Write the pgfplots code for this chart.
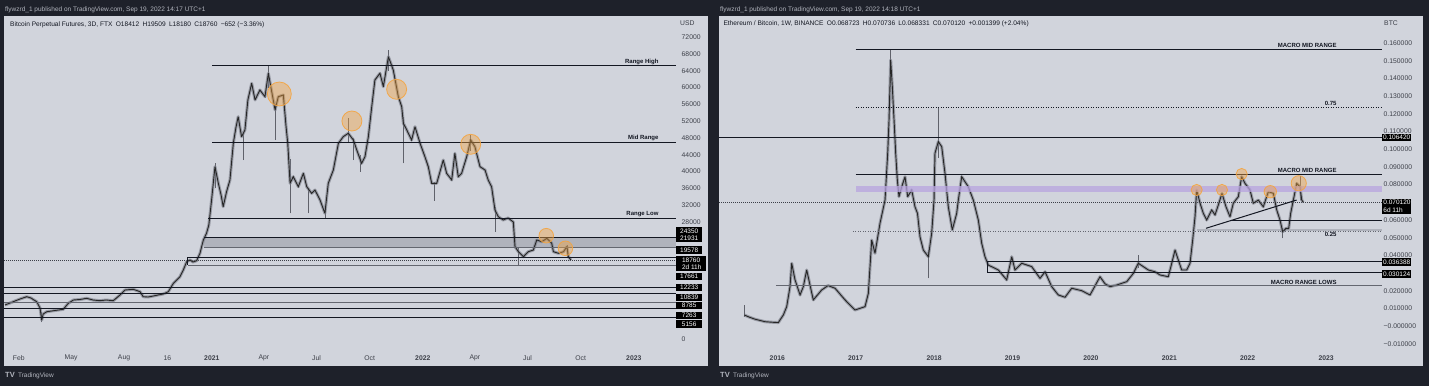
\documentclass[border=0pt]{standalone}
\usepackage{pgfplots}
\pgfplotsset{compat=1.18}
\usepackage{pgfplotstable}
\usepackage{fontspec}
\setmainfont{Liberation Sans}
\definecolor{frame}{RGB}{30,33,42}
\definecolor{panel}{RGB}{209,212,220}
\definecolor{hdr}{RGB}{178,181,190}
\definecolor{ink}{RGB}{19,23,34}
\definecolor{ticktext}{RGB}{60,63,72}
\definecolor{candlegray}{RGB}{120,123,134}
\definecolor{bandgray}{RGB}{176,179,188}
\definecolor{linegray}{RGB}{100,103,112}
\definecolor{hlorange}{RGB}{244,164,64}
\definecolor{lavender}{RGB}{184,164,224}

\pgfplotstableread{
t p
2020.020 8178
2020.059 8964
2020.091 9608
2020.123 10156
2020.143 9846
2020.170 8964
2020.186 7462
2020.194 4601
2020.201 6032
2020.218 6580
2020.257 6866
2020.296 7152
2020.320 8582
2020.344 9369
2020.375 9488
2020.407 9774
2020.437 9369
2020.470 9202
2020.499 9369
2020.533 9202
2020.565 10561
2020.589 11753
2020.628 11920
2020.660 11348
2020.675 10156
2020.698 10084
2020.723 10323
2020.745 10561
2020.770 10800
2020.794 11348
2020.818 13350
2020.834 14137
2020.849 14924
2020.865 16521
2020.881 18500
2020.897 18905
2020.911 18428
2020.928 18738
2020.944 20502
2020.960 23673
2020.975 25270
2020.986 27249
2020.999 33209
2021.015 41148
2021.031 37190
2021.044 34401
2021.054 31612
2021.070 35188
2021.086 37978
2021.102 46726
2021.114 50374
2021.125 53068
2021.141 48300
2021.157 49898
2021.171 57050
2021.189 61030
2021.205 57050
2021.228 59434
2021.252 57837
2021.268 63416
2021.284 59029
2021.300 54667
2021.315 57837
2021.339 58242
2021.352 50684
2021.360 46726
2021.371 37190
2021.386 38764
2021.410 36380
2021.434 39574
2021.450 36380
2021.473 34806
2021.489 35593
2021.513 33209
2021.536 30038
2021.552 37190
2021.576 40361
2021.600 46726
2021.623 48300
2021.647 49110
2021.671 47513
2021.687 45129
2021.710 41958
2021.726 43532
2021.742 48300
2021.758 55452
2021.773 61818
2021.797 63416
2021.813 60221
2021.837 67373
2021.860 64201
2021.884 57837
2021.900 55452
2021.908 51494
2021.924 49898
2021.947 47513
2021.963 50684
2021.987 46726
2022.010 43532
2022.026 41148
2022.042 37190
2022.066 37190
2022.097 42745
2022.113 39574
2022.137 37978
2022.152 44342
2022.168 38764
2022.184 39574
2022.208 43532
2022.227 47513
2022.247 45916
2022.271 41148
2022.295 40361
2022.310 37978
2022.326 36380
2022.342 30838
2022.358 29228
2022.381 28441
2022.404 28918
2022.429 27964
2022.437 22076
2022.453 20884
2022.477 19692
2022.500 20884
2022.524 21289
2022.540 23673
2022.564 23268
2022.588 24078
2022.611 22886
2022.619 20884
2022.643 20502
2022.667 20884
2022.683 22076
2022.690 19692
2022.702 18905
}\btcdata

\pgfplotstableread{
t v
2015.579 0.0064
2015.630 0.0054
2015.716 0.0040
2015.843 0.0026
2015.932 0.0023
2016.013 0.0021
2016.077 0.0064
2016.120 0.0111
2016.162 0.0224
2016.184 0.0356
2016.226 0.0262
2016.290 0.0177
2016.332 0.0224
2016.375 0.0318
2016.417 0.0233
2016.459 0.0149
2016.566 0.0205
2016.647 0.0230
2016.736 0.0215
2016.864 0.0149
2016.991 0.0092
2017.119 0.0111
2017.161 0.0186
2017.204 0.0487
2017.246 0.0412
2017.310 0.0582
2017.374 0.0713
2017.408 0.0977
2017.425 0.1165
2017.446 0.1504
2017.467 0.1353
2017.489 0.1165
2017.510 0.0977
2017.531 0.0826
2017.552 0.0732
2017.587 0.0788
2017.629 0.0845
2017.663 0.0732
2017.714 0.0770
2017.756 0.0675
2017.788 0.0638
2017.820 0.0506
2017.862 0.0431
2017.926 0.0393
2017.969 0.0525
2017.999 0.0713
2018.011 0.0977
2018.054 0.1043
2018.097 0.1014
2018.139 0.0864
2018.181 0.0675
2018.203 0.0619
2018.232 0.0544
2018.288 0.0638
2018.309 0.0713
2018.352 0.0845
2018.436 0.0788
2018.500 0.0713
2018.564 0.0600
2018.607 0.0469
2018.649 0.0393
2018.691 0.0346
2018.819 0.0318
2018.926 0.0262
2018.990 0.0393
2019.032 0.0318
2019.117 0.0356
2019.245 0.0337
2019.351 0.0271
2019.415 0.0308
2019.500 0.0224
2019.584 0.0177
2019.670 0.0164
2019.755 0.0215
2019.883 0.0201
2019.989 0.0177
2020.094 0.0262
2020.116 0.0280
2020.180 0.0240
2020.244 0.0224
2020.329 0.0233
2020.457 0.0252
2020.541 0.0299
2020.605 0.0356
2020.668 0.0337
2020.732 0.0318
2020.818 0.0308
2020.881 0.0290
2020.987 0.0280
2021.031 0.0356
2021.073 0.0431
2021.115 0.0374
2021.158 0.0318
2021.222 0.0318
2021.264 0.0356
2021.298 0.0487
2021.328 0.0619
2021.349 0.0770
2021.392 0.0695
2021.434 0.0638
2021.477 0.0600
2021.541 0.0657
2021.583 0.0629
2021.625 0.0685
2021.672 0.0751
2021.723 0.0675
2021.774 0.0619
2021.816 0.0695
2021.880 0.0732
2021.923 0.0845
2021.966 0.0807
2022.029 0.0770
2022.071 0.0695
2022.135 0.0713
2022.199 0.0675
2022.263 0.0760
2022.327 0.0751
2022.370 0.0657
2022.412 0.0600
2022.446 0.0534
2022.488 0.0553
2022.523 0.0553
2022.548 0.0638
2022.582 0.0713
2022.625 0.0807
2022.667 0.0788
2022.689 0.0713
2022.709 0.0701
}\ethbtc

\tikzset{
  lbl/.style={font=\fontsize{6}{7}\selectfont\bfseries, text=ink, inner sep=1.3pt},
  pbox/.style={fill=black, text=white, font=\fontsize{6.5}{7.3}\selectfont, anchor=west, inner xsep=0pt, inner ysep=1.3pt, text height=4.7pt, text depth=0.2pt, align=center},
  pbox2/.style={fill=black, text=white, font=\fontsize{6.5}{7.6}\selectfont, anchor=west, inner xsep=0pt, inner ysep=1.3pt, text height=12.3pt, text depth=0.2pt, align=left},
}
\pgfplotsset{
  tvaxis/.style={
    scale only axis, enlargelimits=false, clip mode=individual,
    scaled x ticks=false, scaled y ticks=false,
    axis line style={draw=none}, major tick length=0pt, tick style={draw=none},
    yticklabel pos=right,
    ticklabel style={font=\fontsize{6.8}{8}\selectfont, text=ticktext, inner sep=0pt},
    yticklabel style={anchor=west},
    xticklabel style={anchor=center, yshift=-9pt},
    /pgf/number format/assume math mode=true,
  },
  hl/.style={only marks, mark=*, mark size=#1, mark options={fill=hlorange, fill opacity=0.42, draw=hlorange, draw opacity=0.9, line width=0.8pt}},
  candleA/.style={candlegray, line width=3pt, line join=round, opacity=0.65},
  candleB/.style={black!85, line width=0.9pt, line join=miter, miter limit=3},
  wick/.style={candlegray!80!black, line width=0.7pt, unbounded coords=jump},
}

\begin{document}
\begin{tikzpicture}[x=1pt,y=1pt]
\useasboundingbox (0,0) rectangle (1429,386);
\fill[frame] (0,0) rectangle (1429,386);
\fill[panel] (4,20) rectangle (708,370);
\fill[panel] (719,20) rectangle (1423,370);

% ---------------- Left: BTC perpetual ----------------
\begin{axis}[tvaxis, at={(4pt,37pt)}, anchor=south west, width=672pt, height=333pt,
  xmin=2020.0152, xmax=2023.2, ymin=-2312, ymax=77075,
  ytick={0,28000,32000,36000,40000,44000,48000,52000,56000,60000,64000,68000,72000},
  yticklabels={0,28000,32000,36000,40000,44000,48000,52000,56000,60000,64000,68000,72000},
  yticklabel style={xshift=5.5pt},
  xtick={2020.085,2020.333,2020.584,2020.79,2021,2021.247,2021.496,2021.748,2022,2022.247,2022.496,2022.748,2023},
  xticklabels={Feb,May,Aug,16,\textbf{2021},Apr,Jul,Oct,\textbf{2022},Apr,Jul,Oct,\textbf{2023}}]
\addplot[fill=bandgray, draw=none] coordinates {(2020.963,21931) (2023.2,21931) (2023.2,24350) (2020.963,24350)} -- cycle;
\addplot[ticktext, line width=0.6pt, dash pattern=on 1pt off 1pt] coordinates {(2020.0152,18760) (2023.2,18760)};
\addplot[wick] coordinates {
(2020.194,4050) (2020.194,6600) (2020.194,nan)
(2021.015,36000) (2021.015,42000) (2021.015,nan)
(2021.149,42745) (2021.149,49000) (2021.149,nan)
(2021.268,60000) (2021.268,65200) (2021.268,nan)
(2021.300,47500) (2021.300,56000) (2021.300,nan)
(2021.371,30000) (2021.371,43000) (2021.371,nan)
(2021.457,30038) (2021.457,36000) (2021.457,nan)
(2021.536,29000) (2021.536,32000) (2021.536,nan)
(2021.647,47000) (2021.647,52690) (2021.647,nan)
(2021.671,42745) (2021.671,48000) (2021.671,nan)
(2021.702,39956) (2021.702,44000) (2021.702,nan)
(2021.837,64000) (2021.837,69000) (2021.837,nan)
(2021.908,41958) (2021.908,53000) (2021.908,nan)
(2022.055,33000) (2022.055,37500) (2022.055,nan)
(2022.227,45000) (2022.227,48700) (2022.227,nan)
(2022.342,25650) (2022.342,31500) (2022.342,nan)
(2022.453,17710) (2022.453,22000) (2022.453,nan)
(2022.683,19500) (2022.683,22600)};
\addplot[candleA] table[x=t,y=p]{\btcdata};
\addplot[candleB] table[x=t,y=p]{\btcdata};
% drawn levels
\addplot[ink, line width=1pt] coordinates {(2021.002,65155) (2023.2,65155)};
\addplot[ink, line width=1pt] coordinates {(2021.002,46965) (2023.2,46965)};
\addplot[ink, line width=1pt] coordinates {(2020.983,28846) (2023.2,28846)};
\addplot[ink, line width=1pt] coordinates {(2020.963,24350) (2023.2,24350)};
\addplot[linegray, line width=1.6pt] coordinates {(2020.963,21931) (2023.2,21931)};
\addplot[ink, line width=1pt] coordinates {(2023.2,19578) (2020.887,19578) (2020.887,17661)};
\addplot[linegray, line width=1.3pt] coordinates {(2020.887,17661) (2023.2,17661)};
\addplot[ink, line width=1pt] coordinates {(2020.0152,12233) (2023.2,12233)};
\addplot[ink, line width=1pt] coordinates {(2020.0152,10839) (2023.2,10839)};
\addplot[linegray, line width=1.6pt] coordinates {(2020.0152,8785) (2023.2,8785)};
\addplot[ink, line width=1pt] coordinates {(2020.0152,7263) (2023.2,7263)};
\addplot[ink, line width=1pt] coordinates {(2020.0152,5156) (2023.2,5156)};
% highlights
\addplot[hl=12pt] coordinates {(2021.320,58480)};
\addplot[hl=10pt] coordinates {(2021.664,52042) (2021.876,59600) (2022.227,46488)};
\addplot[hl=7.3pt] coordinates {(2022.585,24698) (2022.676,21694)};
% level names
\node[lbl, anchor=south east] at (axis cs:2023.124,65155) {Range High};
\node[lbl, anchor=south east] at (axis cs:2023.124,46965) {Mid Range};
\node[lbl, anchor=south east] at (axis cs:2023.124,28846) {Range Low};
% price boxes
\node[pbox, minimum width=26pt] at (axis cs:2023.2,25819) {24350};
\node[pbox, minimum width=26pt] at (axis cs:2023.2,23983) {21931};
\node[pbox, minimum width=26pt] at (axis cs:2023.2,21289) {19578};
\node[pbox2, minimum width=29.5pt] at (axis cs:2023.2,18023) {\hspace*{1.6pt}18760\\\hspace*{1.6pt}2d 11h};
\node[pbox, minimum width=26pt] at (axis cs:2023.2,14924) {17661};
\node[pbox, minimum width=26pt] at (axis cs:2023.2,12397) {12233};
\node[pbox, minimum width=26pt] at (axis cs:2023.2,10013) {10839};
\node[pbox, minimum width=26pt] at (axis cs:2023.2,8010) {8785};
\node[pbox, minimum width=26pt] at (axis cs:2023.2,5722) {7263};
\node[pbox, minimum width=26pt] at (axis cs:2023.2,3647) {5156};
\end{axis}

% ---------------- Right: ETH/BTC ----------------
\begin{axis}[tvaxis, at={(719pt,37pt)}, anchor=south west, width=663pt, height=333pt,
  xmin=2015.2564, xmax=2023.713, ymin=-0.012821, ymax=0.175249,
  ytick={-0.01,0,0.01,0.02,0.04,0.05,0.06,0.08,0.09,0.10,0.11,0.12,0.13,0.14,0.15,0.16},
  yticklabels={−0.010000,−0.000000,0.010000,0.020000,0.040000,0.050000,0.060000,0.080000,0.090000,0.100000,0.110000,0.120000,0.130000,0.140000,0.150000,0.160000},
  yticklabel style={xshift=1.5pt},
  xtick={2016,2017,2018,2019,2020,2021,2022,2023},
  xticklabels={\textbf{2016},\textbf{2017},\textbf{2018},\textbf{2019},\textbf{2020},\textbf{2021},\textbf{2022},\textbf{2023}}]
\addplot[fill=bandgray, draw=none] coordinates {(2021.35,0.0538) (2023.713,0.0538) (2023.713,0.0550) (2021.35,0.0550)} -- cycle;
\addplot[ticktext, line width=0.6pt, dash pattern=on 1pt off 1pt] coordinates {(2015.2564,0.07012) (2023.713,0.07012)};
\addplot[wick] coordinates {
(2015.579,0.0054) (2015.579,0.0120) (2015.579,nan)
(2017.446,0.135) (2017.446,0.1560) (2017.446,nan)
(2017.926,0.0271) (2017.926,0.0431) (2017.926,nan)
(2018.054,0.0950) (2018.054,0.1237) (2018.054,nan)
(2020.605,0.033) (2020.605,0.0400) (2020.605,nan)
(2022.446,0.0497) (2022.446,0.0553) (2022.446,nan)
(2022.667,0.0713) (2022.667,0.0849)};
\addplot[candleA] table[x=t,y=v]{\ethbtc};
\addplot[candleB] table[x=t,y=v]{\ethbtc};
\addplot[fill=lavender, draw=none, opacity=0.75] coordinates {(2017.0,0.07585) (2023.713,0.07585) (2023.713,0.07941) (2017.0,0.07941)} -- cycle;
% levels
\addplot[ink, line width=1pt] coordinates {(2017.0,0.15644) (2023.713,0.15644)};
\addplot[ink, line width=1pt, dash pattern=on 1pt off 1.5pt] coordinates {(2017.0,0.12368) (2023.713,0.12368)};
\addplot[ink, line width=1pt] coordinates {(2015.2564,0.10642) (2023.713,0.10642)};
\addplot[ink, line width=1pt] coordinates {(2017.0,0.08584) (2023.713,0.08584)};
\addplot[ink, line width=1pt] coordinates {(2021.80,0.05947) (2023.713,0.05947)};
\addplot[linegray, line width=1pt, dash pattern=on 1pt off 1.5pt] coordinates {(2016.965,0.05382) (2023.713,0.05382)};
\addplot[ink, line width=1pt] coordinates {(2021.468,0.05535) (2022.625,0.07133)};
\addplot[ink, line width=1pt] coordinates {(2023.713,0.036388) (2018.675,0.036388) (2018.675,0.030124) (2023.713,0.030124)};
\addplot[linegray, line width=1.3pt] coordinates {(2015.983,0.02293) (2023.713,0.02293)};
% highlights
\addplot[hl=5.6pt] coordinates {(2021.349,0.0770) (2021.672,0.0770) (2021.923,0.0860)};
\addplot[hl=6.2pt] coordinates {(2022.288,0.0760)};
\addplot[hl=7.6pt] coordinates {(2022.651,0.0808)};
% level names
\node[lbl, anchor=south east] at (axis cs:2023.152,0.15644) {MACRO MID RANGE};
\node[lbl, anchor=south east] at (axis cs:2023.152,0.12368) {0.75};
\node[lbl, anchor=south east] at (axis cs:2023.152,0.08584) {MACRO MID RANGE};
\node[lbl, anchor=north east] at (axis cs:2023.152,0.05382) {0.25};
\node[lbl, anchor=south east] at (axis cs:2023.152,0.02293) {MACRO RANGE LOWS};
% price boxes
\node[pbox, minimum width=29pt] at (axis cs:2023.713,0.1067) {0.106420};
\node[pbox2, minimum width=29pt] at (axis cs:2023.713,0.06766) {\hspace*{0.5pt}0.070120\\\hspace*{0.5pt}6d 11h};
\node[pbox, minimum width=29pt] at (axis cs:2023.713,0.03631) {0.036388};
\node[pbox, minimum width=29pt] at (axis cs:2023.713,0.02954) {0.030124};
\end{axis}

% ---------------- frame texts ----------------
\node[anchor=west, inner sep=0pt, text=hdr, font=\fontsize{6.5}{7}\selectfont] at (5,376.3) {flywzrd\_1 published on TradingView.com, Sep 19, 2022 14:17 UTC+1};
\node[anchor=west, inner sep=0pt, text=hdr, font=\fontsize{6.5}{7}\selectfont] at (720,376.3) {flywzrd\_1 published on TradingView.com, Sep 19, 2022 14:18 UTC+1};
\node[anchor=west, inner sep=0pt, text=ink, font=\fontsize{6.6}{7}\selectfont] at (10,361.5) {Bitcoin Perpetual Futures, 3D, FTX\enspace O18412\enspace H19509\enspace L18180\enspace C18760\enspace −652 (−3.36\%)};
\node[anchor=west, inner sep=0pt, text=ink, font=\fontsize{6.6}{7}\selectfont] at (723.3,362) {Ethereum / Bitcoin, 1W, BINANCE\enspace O0.068723\enspace H0.070736\enspace L0.068331\enspace C0.070120\enspace +0.001399 (+2.04\%)};
\node[anchor=west, inner sep=0pt, text=ticktext, font=\fontsize{6.8}{8}\selectfont] at (680,363.3) {USD};
\node[anchor=west, inner sep=0pt, text=ticktext, font=\fontsize{6.8}{8}\selectfont] at (1384,362.7) {BTC};
\node[anchor=west, inner sep=0pt, text=hdr, font=\fontsize{6.5}{7}\selectfont] at (5,10) {{\bfseries\fontsize{7.5}{8}\selectfont TV}\enspace TradingView};
\node[anchor=west, inner sep=0pt, text=hdr, font=\fontsize{6.5}{7}\selectfont] at (720,10) {{\bfseries\fontsize{7.5}{8}\selectfont TV}\enspace TradingView};
\end{tikzpicture}
\end{document}
